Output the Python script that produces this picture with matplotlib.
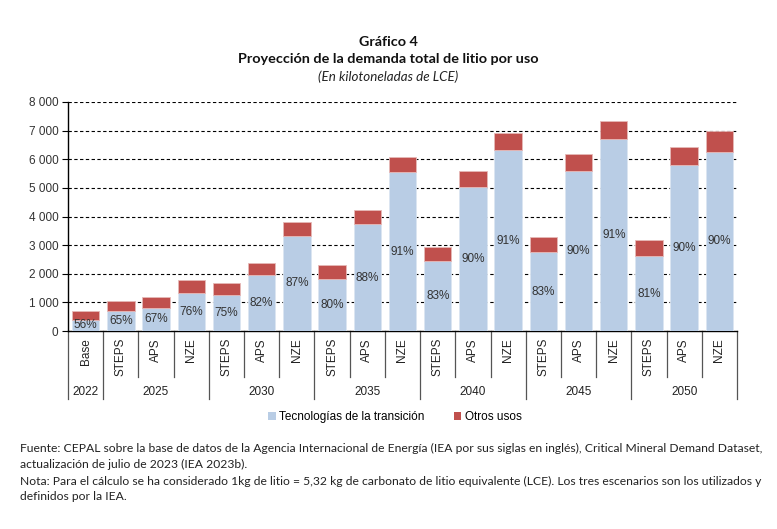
import matplotlib
matplotlib.use("Agg")
import matplotlib.pyplot as plt
from matplotlib.patches import Patch
from matplotlib.lines import Line2D
import matplotlib.transforms as mtransforms

# ---- data ----
scenarios = ["Base", "STEPS", "APS", "NZE", "STEPS", "APS", "NZE", "STEPS", "APS", "NZE",
             "STEPS", "APS", "NZE", "STEPS", "APS", "NZE", "STEPS", "APS", "NZE"]
years = ["2022", "2025", "2030", "2035", "2040", "2045", "2050"]
group_sizes = [1, 3, 3, 3, 3, 3, 3]
transicion = [385, 685, 804, 1340, 1270, 1946, 3333, 1830, 3730, 5548,
              2448, 5047, 6317, 2751, 5606, 6690, 2611, 5793, 6270]
otros = [305, 364, 396, 432, 420, 443, 490, 466, 489, 548,
         501, 547, 594, 547, 583, 653, 582, 629, 711]
pct_labels = ["56%", "65%", "67%", "76%", "75%", "82%", "87%", "80%", "88%", "91%",
              "83%", "90%", "91%", "83%", "90%", "91%", "81%", "90%", "90%"]
yticks = [0, 1000, 2000, 3000, 4000, 5000, 6000, 7000, 8000]
ytick_labels = ["0", "1 000", "2 000", "3 000", "4 000", "5 000", "6 000", "7 000", "8 000"]

BLUE = "#B9CDE5"
RED = "#C0504D"
W, H = 777, 529
chart_font = "Liberation Sans"
text_font = "Lato"

fig = plt.figure(figsize=(W / 100, H / 100), dpi=100)
ax_left, ax_right, ax_top, ax_bot = 68, 737, 102, 331
ax = fig.add_axes([ax_left / W, 1 - ax_bot / H, (ax_right - ax_left) / W, (ax_bot - ax_top) / H])

x = list(range(len(scenarios)))
ax.bar(x, transicion, width=0.78, color=BLUE, edgecolor="#dbe5f1", linewidth=0.6, zorder=3)
ax.bar(x, otros, width=0.78, bottom=transicion, color=RED, edgecolor="#e6b9b8", linewidth=0.6, zorder=3)

for xi, b, lab in zip(x, transicion, pct_labels):
    ax.text(xi, b / 2, lab, ha="center", va="center", fontsize=8.5, color="#333333",
            family=chart_font, zorder=4)

ax.set_xlim(-0.5, len(scenarios) - 0.5)
ax.set_ylim(0, 8000)
ax.set_yticks(yticks)
ax.set_yticklabels(ytick_labels, family=chart_font, fontsize=8.5, color="#333333")
ax.tick_params(axis="y", direction="out", length=4, width=0.8, pad=3)
ax.set_xticks([])
for yv in yticks[1:]:
    ax.axhline(yv, color="black", linestyle=(0, (3, 2.2)), linewidth=0.8, zorder=1)
ax.spines["top"].set_visible(False)
ax.spines["right"].set_visible(False)
ax.spines["left"].set_linewidth(1.0)
ax.spines["bottom"].set_linewidth(1.0)

trans = mtransforms.blended_transform_factory(ax.transData, ax.transAxes)
inner_y = -(377 - ax_bot) / (ax_bot - ax_top)
outer_y = -(399 - ax_bot) / (ax_bot - ax_top)
label_top = -(338 - ax_bot) / (ax_bot - ax_top)
group_y = -(392 - ax_bot) / (ax_bot - ax_top)

# category labels and separators
for xi, s in zip(x, scenarios):
    ax.text(xi, label_top, s, rotation=90, ha="center", va="top", fontsize=8.5,
            family=chart_font, color="#222222", transform=trans)
bounds = [0]
for g in group_sizes:
    bounds.append(bounds[-1] + g)
for i in range(len(scenarios) + 1):
    yb = outer_y if i in bounds else inner_y
    ax.add_line(Line2D([i - 0.5, i - 0.5], [0, yb], transform=trans, color="#555555",
                       linewidth=0.9, clip_on=False))
for yr, a, b in zip(years, bounds[:-1], bounds[1:]):
    ax.text((a + b - 1) / 2, group_y, yr, ha="center", va="center", fontsize=8.5,
            family=chart_font, color="#222222", transform=trans)

# legend
handles = [Patch(facecolor=BLUE, edgecolor="none"), Patch(facecolor=RED, edgecolor="none")]
fig.legend(handles, ["Tecnologías de la transición", "Otros usos"], loc="center",
           bbox_to_anchor=(395 / W, 1 - 417 / H), ncol=2, frameon=False,
           prop={"family": chart_font, "size": 8.5}, handlelength=0.6, handleheight=0.6,
           handletextpad=0.3, columnspacing=2.5)

# titles
fig.text(0.5, 1 - 42 / H, "Gráfico 4", ha="center", va="center", fontsize=10.4,
         family=text_font, weight="bold", color="#111111")
fig.text(0.5, 1 - 59 / H, "Proyección de la demanda total de litio por uso", ha="center",
         va="center", fontsize=10.4, family=text_font, weight="bold", color="#111111")
fig.text(0.5, 1 - 77 / H, "(En kilotoneladas de LCE)", ha="center", va="center",
         fontsize=9.6, family=text_font, style="italic", color="#222222")

notes = [
    "Fuente: CEPAL sobre la base de datos de la Agencia Internacional de Energía (IEA por sus siglas en inglés), Critical Mineral Demand Dataset,",
    "actualización de julio de 2023 (IEA 2023b).",
    "Nota: Para el cálculo se ha considerado 1kg de litio = 5,32 kg de carbonato de litio equivalente (LCE). Los tres escenarios son los utilizados y",
    "definidos por la IEA.",
]
for line, yp in zip(notes, [448, 464, 481, 497]):
    fig.text(20 / W, 1 - yp / H, line, ha="left", va="center", fontsize=8.7,
             family=text_font, color="#222222")

fig.savefig("out.png", dpi=100)
